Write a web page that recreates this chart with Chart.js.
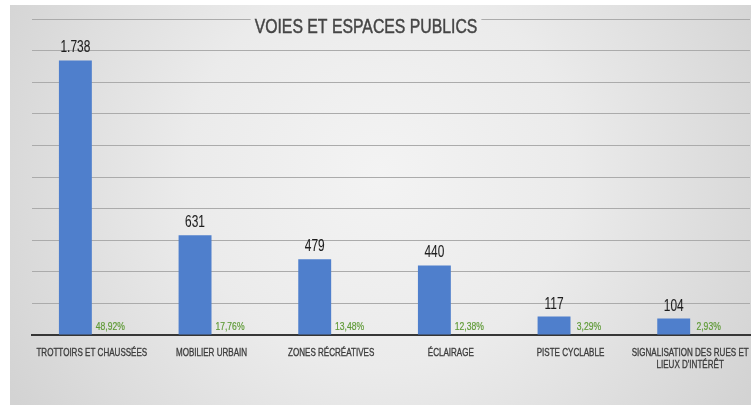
<!DOCTYPE html>
<html>
<head>
<meta charset="utf-8">
<script src="https://cdn.jsdelivr.net/npm/chart.js@4/dist/chart.umd.min.js"></script>
<style>
  html, body { margin: 0; padding: 0; background: #fff; }
  #panel { position: absolute; left: 10px; top: 5px; width: 741px; height: 400px; }
</style>
</head>
<body>
<div id="panel"><canvas id="mychart" width="741" height="400"></canvas></div>
<script>
var titre = 'VOIES ET ESPACES PUBLICS';
var categories = [
  'TROTTOIRS ET CHAUSSÉES',
  'MOBILIER URBAIN',
  'ZONES RÉCRÉATIVES',
  'ÉCLAIRAGE',
  'PISTE CYCLABLE',
  ['SIGNALISATION DES RUES ET', "LIEUX D'INTÉRÊT"]
];
var nombres = [1738, 631, 479, 440, 117, 104];
var parts = [48.92, 17.76, 13.48, 12.38, 3.29, 2.93];

var police = '"Liberation Sans", Arial, sans-serif';

// no narrow face installed, so text is squeezed horizontally by hand
// (epais > 0 adds a thin outline so the squeezed stems keep their weight)
function texteEtroit(ctx, txt, x, y, sx, epais) {
  ctx.save();
  ctx.translate(x, y);
  ctx.scale(sx, 1);
  ctx.fillText(txt, 0, 0);
  if (epais) {
    ctx.strokeStyle = ctx.fillStyle;
    ctx.lineWidth = epais;
    ctx.strokeText(txt, 0, 0);
  }
  ctx.restore();
}

var fond = null;
function degrade(ctx, chart) {
  var g = ctx.createRadialGradient(chart.width * 0.5, chart.height * 0.42, 0,
                                   chart.width * 0.5, chart.height * 0.42, 430);
  g.addColorStop(0, '#f3f3f3');
  g.addColorStop(0.45, '#ebebeb');
  g.addColorStop(1, '#d3d3d3');
  return g;
}

var habillage = {
  id: 'habillage',
  beforeDraw: function(chart) {
    var ctx = chart.ctx;
    fond = degrade(ctx, chart);
    ctx.save();
    ctx.fillStyle = fond;
    ctx.fillRect(0, 0, chart.width, chart.height);
    ctx.restore();
  },
  afterDatasetsDraw: function(chart) {
    var ctx = chart.ctx;
    ctx.save();
    ctx.textAlign = 'center';
    ctx.textBaseline = 'alphabetic';
    // counts above the blue bars
    ctx.fillStyle = '#1e1e1e';
    ctx.font = '17px ' + police;
    chart.getDatasetMeta(0).data.forEach(function(bar, i) {
      texteEtroit(ctx, nombres[i].toLocaleString('de-DE'), bar.x, bar.y - 8, 0.7, 0.1);
    });
    // shares at the foot of the second series
    ctx.fillStyle = '#5e9a35';
    ctx.font = '11px ' + police;
    chart.getDatasetMeta(1).data.forEach(function(bar, i) {
      texteEtroit(ctx, parts[i].toFixed(2).replace('.', ',') + '%', bar.x + 2, bar.base - 5, 0.78, 0.2);
    });
    ctx.restore();
  },
  afterDraw: function(chart) {
    var ctx = chart.ctx;
    var x = chart.scales.x;
    ctx.save();
    // category names under the axis
    ctx.textAlign = 'center';
    ctx.textBaseline = 'alphabetic';
    ctx.fillStyle = '#3c3c3c';
    ctx.font = '11.5px ' + police;
    categories.forEach(function(c, i) {
      var lignes = Array.isArray(c) ? c : [c];
      var px = x.getPixelForValue(i);
      lignes.forEach(function(l, k) {
        texteEtroit(ctx, l, px, x.top + 21 + k * 12, 0.7, 0.35);
      });
    });
    // title sits on the top gridline
    ctx.font = '20px ' + police;
    var w = ctx.measureText(titre).width * 0.79;
    var cx = 356;
    ctx.fillStyle = fond;
    ctx.fillRect(cx - w / 2 - 4, 8, w + 8, 26);
    ctx.fillStyle = '#454545';
    texteEtroit(ctx, titre, cx, 28, 0.79, 0.45);
    ctx.restore();
  }
};

var ctx = document.getElementById('mychart');
var myChart = new Chart(ctx, {
  type: 'bar',
  data: {
    labels: categories,
    datasets: [{
      label: 'Nombre',
      data: nombres,
      backgroundColor: '#4f7fcc',
      categoryPercentage: 0.55,
      barPercentage: 1.0
    }, {
      label: 'Part',
      data: parts,
      backgroundColor: 'rgba(0,0,0,0)',
      categoryPercentage: 0.55,
      barPercentage: 1.0
    }]
  },
  options: {
    responsive: false,
    animation: false,
    layout: { padding: { left: 0, right: 1, top: 14, bottom: 0 } },
    plugins: {
      legend: { display: false },
      tooltip: { enabled: false }
    },
    scales: {
      x: {
        grid: { display: false },
        border: { display: true, color: '#363636', width: 2 },
        ticks: { display: false },
        afterFit: function(s) { s.height = 70; }
      },
      y: {
        min: 0,
        max: 2000,
        ticks: { display: false, stepSize: 200 },
        grid: { color: '#ababab', lineWidth: 1, drawTicks: false },
        border: { display: false },
        afterFit: function(s) { s.width = 22; }
      }
    }
  },
  plugins: [habillage]
});
</script>
</body>
</html>
